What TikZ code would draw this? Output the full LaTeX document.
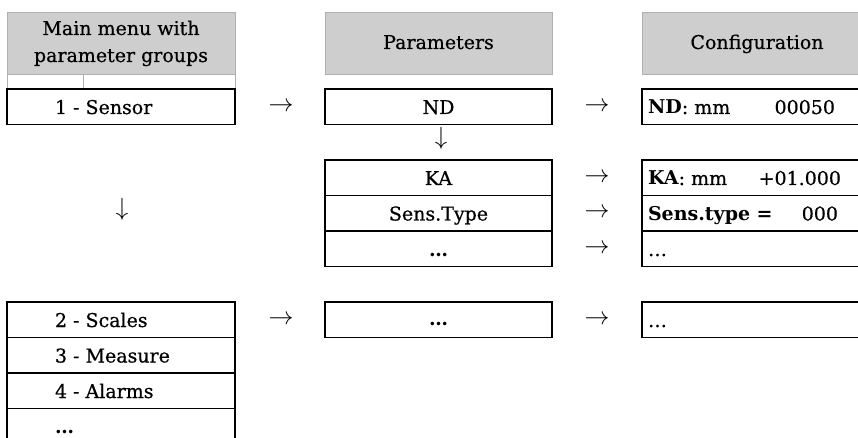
\documentclass[tikz,border=0pt]{standalone}
\usepackage{fontspec}
\setmainfont{DejaVu Serif}[UprightFeatures={FakeBold=0.6}]
\definecolor{hdrfill}{RGB}{206,206,206}
\definecolor{hdrline}{RGB}{175,175,175}
\begin{document}
\begin{tikzpicture}[x=1pt,y=-1pt,
  every node/.style={inner sep=0pt, outer sep=0pt},
  font=\fontsize{19}{27}\selectfont,
  hdr/.style={draw=hdrline, fill=hdrfill, line width=0.9pt, anchor=north west, minimum height=62pt},
  sub/.style={draw=hdrline, line width=0.9pt, anchor=north west, minimum height=15pt},
  cell/.style={draw=black, line width=1.3pt, anchor=north west, minimum height=35.5pt},
  opencell/.style={anchor=north west, minimum height=35.5pt},
  txt/.style={anchor=base west},
  ctxt/.style={anchor=base},
  rtxt/.style={anchor=base east},
  arr/.style={anchor=center, font=\fontsize{24}{24}\selectfont}]
\useasboundingbox (0,0) rectangle (858,438);
% headers
\node[hdr, minimum width=228pt] (h1) at (7,12) {};
\node[ctxt] (h1a) at (121,35) {Main menu with};
\node[ctxt] (h1b) at (121,62) {parameter groups};
\node[hdr, minimum width=227pt] (h2) at (325,12) {};
\node[ctxt] (h2t) at (438.5,49) {Parameters};
\node[hdr, minimum width=220pt] (h3) at (642,12) {};
\node[ctxt] (h3t) at (757,49) {Configuration};
\node[sub, minimum width=76pt] (s1) at (7,74) {};
\node[sub, minimum width=152pt] (s2) at (83,74) {};
% left column
\node[cell, minimum width=228pt] (m1) at (7,89) {};
\node[txt] (m1t) at (55,114) {1 - Sensor};
\node[cell, minimum width=228pt] (m2) at (7,302) {};
\node[txt] (m2t) at (55,327) {2 - Scales};
\node[cell, minimum width=228pt] (m3) at (7,337.5) {};
\node[txt] (m3t) at (55,362.5) {3 - Measure};
\node[cell, minimum width=228pt] (m4) at (7,373) {};
\node[txt] (m4t) at (55,398) {4 - Alarms};
\node[opencell, minimum width=228pt] (m5) at (7,408.5) {};
\draw[line width=1.3pt] (m5.south west) -- (m5.north west) -- (m5.north east) -- (m5.south east);
\node[txt] (m5t) at (55,433.5) {\textbf{\dots}};
% parameter column
\node[cell, minimum width=227pt] (p1) at (325,89) {};
\node[ctxt] (p1t) at (438.5,114) {ND};
\node[cell, minimum width=227pt] (p2) at (325,160) {};
\node[ctxt] (p2t) at (438.5,185) {KA};
\node[cell, minimum width=227pt] (p3) at (325,195.5) {};
\node[ctxt] (p3t) at (438.5,220.5) {Sens.Type};
\node[cell, minimum width=227pt] (p4) at (325,231) {};
\node[ctxt] (p4t) at (438.5,256) {\textbf{\dots}};
\node[cell, minimum width=227pt] (p5) at (325,302) {};
\node[ctxt] (p5t) at (438.5,325) {\textbf{\dots}};
% configuration column (open on the right)
\foreach \n/\y in {c1/89, c2/160, c3/195.5, c4/231, c5/302}{
  \node[opencell, minimum width=216pt] (\n) at (642,\y) {};
  \draw[line width=1.3pt] (\n.north east) -- (\n.north west) -- (\n.south west) -- (\n.south east);
}
\node[txt] (c1t) at (648,114) {\textbf{ND}: mm};
\node[rtxt] (c1v) at (835,114) {00050};
\node[txt] (c2t) at (648,185) {\textbf{KA}: mm};
\node[rtxt] (c2v) at (841,185) {+01.000};
\node[txt] (c3t) at (648,220.5) {\textbf{Sens.type =}};
\node[rtxt] (c3v) at (838,220.5) {000};
\node[txt] (c4t) at (648,256) {\dots};
\node[txt] (c5t) at (648,327) {\dots};
% arrows
\node[arr] (a1) at (281,107) {$\rightarrow$};
\node[arr] (a2) at (597,107) {$\rightarrow$};
\node[arr] (a3) at (441,138) {$\downarrow$};
\node[arr] (a4) at (122,209) {$\downarrow$};
\node[arr] (a5) at (597,178) {$\rightarrow$};
\node[arr] (a6) at (597,213) {$\rightarrow$};
\node[arr] (a7) at (597,249) {$\rightarrow$};
\node[arr] (a8) at (281,320) {$\rightarrow$};
\node[arr] (a9) at (597,320) {$\rightarrow$};
\end{tikzpicture}
\end{document}
